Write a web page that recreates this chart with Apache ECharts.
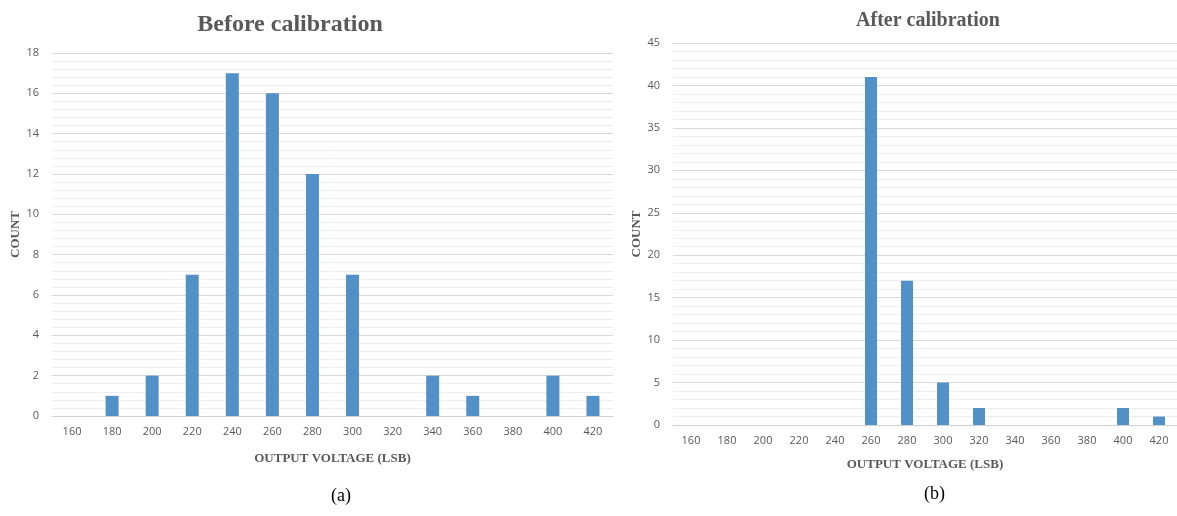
<!DOCTYPE html>
<html>
<head>
<meta charset="utf-8">
<script src="https://cdn.jsdelivr.net/npm/echarts@6/dist/echarts.min.js"></script>
<style>
  html, body { margin: 0; padding: 0; background: #fff; }
  #chart { width: 1177px; height: 516px; }
</style>
</head>
<body>
<div id="chart"></div>
<script>
var voltages = ['160', '180', '200', '220', '240', '260', '280', '300', '320', '340', '360', '380', '400', '420'];
var beforeCounts = [0, 1, 2, 7, 17, 16, 12, 7, 0, 2, 1, 0, 2, 1];
var afterCounts = [0, 0, 0, 0, 0, 41, 17, 5, 2, 0, 0, 0, 2, 1];

var barColor = '#5290c8';
var serif = '"Liberation Serif", "Times New Roman", serif';
var sans = '"Open Sans", "Noto Sans", sans-serif';

function xAxis(idx) {
	return {
		type: 'category', gridIndex: idx, data: voltages,
		name: 'OUTPUT VOLTAGE (LSB)', nameLocation: 'middle', nameGap: idx == 0 ? 36 : 33,
		nameTextStyle: { fontFamily: serif, fontWeight: 'bold', fontSize: 13, color: '#595959' },
		axisTick: { show: false },
		axisLine: { lineStyle: { color: '#d0d0d0' } },
		axisLabel: { fontFamily: sans, fontSize: 11, color: '#595959', margin: 10 }
	};
}

function yAxis(idx, max, step) {
	return {
		type: 'value', gridIndex: idx, min: 0, max: max, interval: step,
		name: 'COUNT', nameLocation: 'middle', nameGap: idx == 0 ? 30 : 27,
		nameTextStyle: { fontFamily: serif, fontWeight: 'bold', fontSize: 13, color: '#595959' },
		axisLine: { show: false }, axisTick: { show: false },
		axisLabel: { fontFamily: sans, fontSize: 11, color: '#595959', margin: 13 },
		splitLine: { lineStyle: { color: '#d9d9d9' } },
		minorTick: { show: false, splitNumber: 5 },
		minorSplitLine: { show: true, lineStyle: { color: '#eeeeee' } }
	};
}

var chart = echarts.init(document.getElementById('chart'));
chart.setOption({
	animation: false,
	backgroundColor: '#fff',
	title: [
		{ text: 'Before calibration', left: 285, top: 8, textAlign: 'center',
		  textStyle: { fontFamily: serif, fontWeight: 'bold', fontSize: 24, color: '#595959' } },
		{ text: 'After calibration', left: 923, top: 6, textAlign: 'center',
		  textStyle: { fontFamily: serif, fontWeight: 'bold', fontSize: 20, color: '#595959' } }
	],
	grid: [
		{ left: 52, top: 53, width: 561, height: 363 },
		{ left: 673, top: 43, width: 504, height: 382 }
	],
	xAxis: [xAxis(0), xAxis(1)],
	yAxis: [yAxis(0, 18, 2), yAxis(1, 45, 5)],
	series: [
		{ type: 'bar', xAxisIndex: 0, yAxisIndex: 0, data: beforeCounts, barWidth: 13, itemStyle: { color: barColor } },
		{ type: 'bar', xAxisIndex: 1, yAxisIndex: 1, data: afterCounts, barWidth: 12, itemStyle: { color: barColor } }
	],
	graphic: [
		{ type: 'text', left: 331, top: 487, style: { text: '(a)', font: '18px ' + serif, fill: '#000' } },
		{ type: 'text', left: 924, top: 485, style: { text: '(b)', font: '18px ' + serif, fill: '#000' } }
	]
});
</script>
</body>
</html>
